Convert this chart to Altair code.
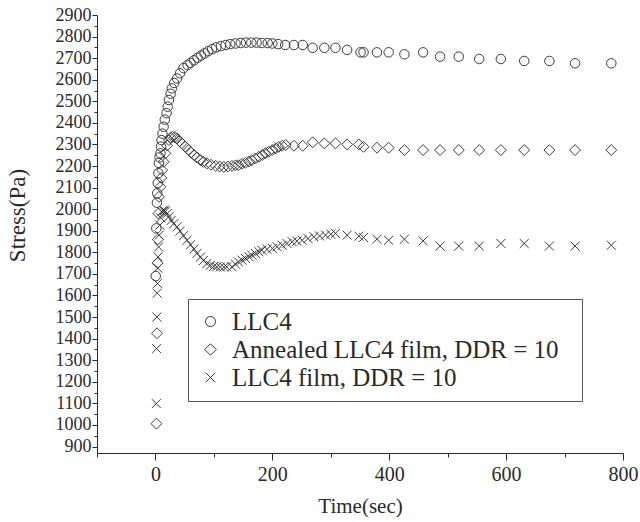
import altair as alt
import pandas as pd

series_names = ["LLC4", "Annealed LLC4 film, DDR = 10", "LLC4 film, DDR = 10"]

llc4_t = [0.5, 1.5, 2.5, 3, 4, 5, 6, 7, 8.5, 9.5, 10.5, 12, 14, 16, 19, 21, 23, 26, 28, 32,
          37, 42, 48, 55, 60, 66, 72, 78, 84, 90, 97, 104, 112, 120, 128, 137, 146, 155, 164, 173,
          182, 192, 200, 210, 222, 237, 252, 269, 289, 308, 328, 351, 356, 379, 399, 426, 458, 487,
          519, 554, 591, 631, 674, 718, 780]
llc4_v = [1690, 1911, 2030, 2074, 2121, 2167, 2214, 2240, 2259, 2290, 2320, 2350, 2382, 2415, 2445, 2475, 2506, 2535, 2560, 2585,
          2606, 2630, 2654, 2668, 2678, 2690, 2702, 2712, 2722, 2732, 2742, 2750, 2756, 2761, 2765, 2768, 2770, 2772, 2772, 2772,
          2770, 2770, 2768, 2765, 2761, 2761, 2761, 2748, 2748, 2748, 2738, 2727, 2727, 2727, 2727, 2718, 2727, 2707,
          2707, 2696, 2696, 2687, 2687, 2676, 2676]

ann_t = [1.7, 2.7, 3.5, 4, 5, 6, 8.5, 10, 11.5, 14, 17, 20, 23, 26, 29, 33, 37, 41, 45, 51,
         57, 61, 66, 71, 77, 82, 88, 95, 103, 110, 117, 124, 131, 137, 142, 148, 154, 160, 165, 171,
         177, 183, 188, 194, 200, 206, 211, 217, 223, 237, 252, 269, 289, 308, 328, 348, 356, 379, 399, 426,
         458, 487, 519, 554, 591, 631, 674, 718, 780]
ann_v = [1006, 1425, 1750, 1860, 1980, 2057, 2104, 2145, 2181, 2220, 2259, 2295, 2320, 2332, 2336, 2334, 2328, 2316, 2305, 2290,
         2274, 2262, 2251, 2240, 2227, 2219, 2212, 2206, 2201, 2198, 2196, 2198, 2201, 2203, 2204, 2210, 2215, 2221, 2227, 2235,
         2243, 2251, 2259, 2266, 2274, 2282, 2289, 2294, 2297, 2294, 2294, 2310, 2305, 2305, 2300, 2300, 2289, 2285, 2285, 2274,
         2274, 2274, 2274, 2274, 2274, 2274, 2274, 2274, 2274]

film_t = [1.5, 2, 2.5, 3, 3.5, 4, 4.5, 5.5, 6.5, 7.5, 9, 11, 13, 15, 17, 20, 23, 27, 31, 37,
          42, 48, 54, 60, 66, 71, 77, 82, 88, 94, 100, 105, 111, 117, 122, 131, 137, 142, 148, 154,
          160, 165, 171, 177, 182, 191, 200, 208, 217, 225, 234, 242, 251, 261, 271, 281, 291, 300, 308, 328,
          348, 356, 379, 399, 426, 458, 487, 519, 554, 591, 631, 674, 718, 780]
film_v = [1099, 1354, 1500, 1611, 1656, 1727, 1779, 1825, 1880, 1926, 1960, 1988, 1995, 1993, 1990, 1980, 1965, 1948, 1932, 1918,
          1898, 1877, 1856, 1835, 1815, 1795, 1778, 1762, 1748, 1740, 1735, 1733, 1732, 1732, 1733, 1733, 1745, 1756, 1764, 1772,
          1780, 1787, 1795, 1803, 1810, 1814, 1818, 1826, 1833, 1841, 1849, 1852, 1856, 1864, 1872, 1876, 1880, 1884, 1888, 1880,
          1875, 1869, 1861, 1856, 1861, 1853, 1829, 1829, 1829, 1841, 1841, 1829, 1829, 1833]

x_ticks = list(range(-100, 801, 100))
y_ticks = list(range(900, 2901, 50))

rows = []
for name, ts, vs in zip(series_names, [llc4_t, ann_t, film_t], [llc4_v, ann_v, film_v]):
    for t, v in zip(ts, vs):
        rows.append({"series": name, "t": t, "v": v})
df = pd.DataFrame(rows)

FONT = "Liberation Serif, Times New Roman, serif"
INK = "#2a2a2a"
DIAMOND = "M0,-1.15L1.15,0L0,1.15L-1.15,0Z"
CROSS = "M-0.95,-0.95L0.95,0.95M-0.95,0.95L0.95,-0.95"
pad = "\u00a0" * 2 + "\u200b"

chart = alt.Chart(df).mark_point(
    filled=False, strokeWidth=1, color="#3c3c3c", size=90, opacity=1
).encode(
    x=alt.X("t:Q",
            scale=alt.Scale(domain=[-100, 800], nice=False, zero=False),
            axis=alt.Axis(
                title="Time(sec)", values=x_ticks, format="d",
                labelExpr="datum.value % 200 === 0 ? datum.label : ''",
                tickSize={"condition": {"test": "datum.value % 200 === 0", "value": 7}, "value": 4},
                labelOverlap=False, labelFlush=False, labelFont=FONT, labelFontSize=20, labelColor=INK,
                labelPadding=4, titleFont=FONT, titleFontSize=21, titleFontWeight="normal",
                titleColor=INK, titlePadding=11, domainColor=INK, tickColor=INK, grid=False,
            )),
    y=alt.Y("v:Q",
            scale=alt.Scale(domain=[870, 2900], nice=False, zero=False),
            axis=alt.Axis(
                title="Stress(Pa)", values=y_ticks, format="d",
                labelExpr="datum.value % 100 === 0 ? datum.label : ''",
                tickSize={"condition": {"test": "datum.value % 100 === 0", "value": 5}, "value": 3},
                labelOverlap=False, labelFlush=False, labelFont=FONT, labelFontSize=18, labelColor=INK,
                labelPadding=1, titleFont=FONT, titleFontSize=23, titleFontWeight="normal",
                titleColor=INK, titleX=-68, titleY=200, domainColor=INK, tickColor=INK, grid=False,
            )),
    shape=alt.Shape("series:N",
                    scale=alt.Scale(domain=series_names, range=["circle", DIAMOND, CROSS]),
                    legend=alt.Legend(
                        title=None, orient="none", legendX=91, legendY=284,
                        strokeColor="#555555", padding=10, rowPadding=2,
                        symbolSize=100, symbolStrokeWidth=1, symbolStrokeColor="#333333",
                        symbolFillColor="transparent", labelOffset=9,
                        labelFont=FONT, labelFontSize=25, labelColor=INK,
                        labelExpr=f"datum.label + '{pad}'", labelLimit=1000,
                    )),
).properties(
    width=526, height=438,
    autosize=alt.AutoSizeParams(type="none"),
    padding={"left": 97, "top": 15, "right": 17, "bottom": 69},
).configure_view(stroke=None)

chart.save("out.html", embed_options={"renderer": "svg", "actions": False})
